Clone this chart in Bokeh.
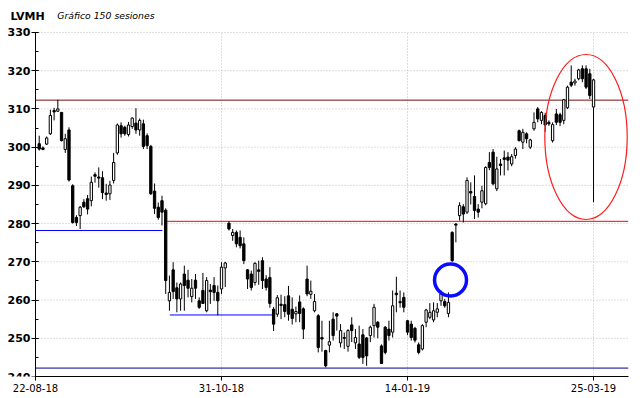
from bokeh.plotting import figure
from bokeh.models import ColumnDataSource, Range1d, FixedTicker, SingleIntervalTicker, Label
from bokeh.embed import file_html
from bokeh.resources import INLINE

title_text = "LVMH"
subtitle_text = "Gráfico 150 sesiones"

sessions = list(range(1, 151))

opens = [
    300.9, 299.8, 300.8, 303.5, 309.6, 309.4, 309.1, 299.4, 304.5, 289.9,
    281.6, 282.1, 285.6, 286.5, 286.0, 292.8, 292.2, 292.0, 288.0, 287.8,
    291.3, 298.5, 305.6, 305.2, 303.3, 305.4, 306.3, 304.5, 306.1, 303.0,
    300.2, 288.5, 284.3, 286.0, 283.5, 259.8, 267.9, 263.2, 260.3, 266.8,
    265.2, 260.9, 265.2, 259.8, 262.5, 257.2, 262.6, 263.8, 262.0, 262.9,
    268.4, 280.1, 276.9, 277.7, 276.4, 274.7, 267.9, 266.8, 264.6, 267.9,
    270.3, 265.5, 265.9, 257.6, 256.3, 258.9, 258.8, 261.1, 257.6, 256.4,
    259.5, 257.7, 265.5, 261.5, 257.2, 255.9, 250.2, 246.8, 248.2, 255.0,
    256.4, 248.8, 250.2, 247.9, 253.5, 248.8, 248.5, 250.9, 250.1, 250.7,
    253.3, 254.2, 248.0, 252.9, 252.4, 251.6, 261.8, 259.6, 260.7, 254.6,
    253.7, 252.6, 248.3, 247.2, 254.2, 255.5, 254.8, 256.8, 259.8, 259.6,
    256.5, 277.7, 279.9, 282.1, 284.4, 283.0, 288.4, 287.1, 283.8, 285.6,
    285.2, 296.0, 298.7, 289.1, 295.6, 297.2, 297.4, 295.6, 297.8, 304.3,
    301.3, 303.5, 300.0, 304.8, 310.0, 307.0, 308.3, 306.5, 301.7, 308.7,
    308.5, 307.0, 310.3, 317.0, 316.8, 317.9, 320.5, 320.5, 319.2, 310.5,
]
highs = [
    303.0, 300.2, 302.8, 309.8, 310.3, 312.4, 309.2, 303.5, 305.2, 290.3,
    282.2, 284.6, 286.4, 287.5, 292.3, 293.4, 294.7, 293.7, 290.4, 291.2,
    298.5, 306.2, 306.5, 305.6, 306.6, 307.8, 310.2, 307.5, 307.2, 303.6,
    300.6, 290.5, 285.5, 287.3, 284.0, 266.4, 269.9, 264.6, 264.6, 269.0,
    267.9, 265.5, 266.8, 260.7, 267.1, 266.0, 264.2, 266.0, 263.8, 269.9,
    270.0, 280.6, 278.6, 278.2, 278.2, 276.4, 268.1, 267.7, 269.9, 270.3,
    271.2, 266.5, 268.6, 258.2, 261.3, 261.4, 261.0, 263.7, 260.7, 258.3,
    261.2, 258.1, 269.0, 265.1, 261.6, 256.3, 254.6, 247.0, 254.6, 256.8,
    256.6, 253.7, 251.5, 252.4, 255.5, 252.4, 253.3, 252.4, 250.3, 253.3,
    259.0, 254.5, 248.4, 253.2, 254.6, 262.5, 266.1, 262.5, 262.0, 254.8,
    254.6, 253.0, 248.9, 253.7, 257.7, 259.2, 259.4, 259.2, 262.5, 260.3,
    262.0, 278.0, 280.1, 285.6, 285.1, 292.1, 290.8, 292.6, 285.1, 289.9,
    295.0, 298.7, 299.5, 297.5, 296.9, 299.1, 298.7, 298.2, 300.0, 304.6,
    304.8, 303.9, 302.2, 309.1, 310.5, 309.4, 309.0, 307.0, 306.5, 310.0,
    309.0, 312.6, 316.1, 321.4, 317.9, 320.5, 321.4, 321.4, 320.5, 317.9,
]
lows = [
    299.1, 299.2, 300.6, 303.2, 307.0, 309.2, 301.5, 298.5, 291.0, 280.0,
    279.4, 278.6, 284.1, 282.4, 284.5, 290.7, 289.4, 286.4, 286.0, 286.2,
    290.5, 298.0, 302.5, 303.0, 302.8, 304.8, 303.5, 303.0, 299.5, 299.5,
    287.5, 282.5, 281.0, 279.5, 261.6, 257.2, 260.3, 256.8, 257.2, 257.2,
    260.7, 259.4, 260.3, 257.7, 259.0, 256.8, 259.0, 259.8, 256.0, 261.6,
    263.4, 278.2, 275.5, 273.8, 273.5, 269.4, 262.9, 262.5, 263.8, 264.0,
    262.9, 262.5, 258.0, 251.9, 255.6, 255.0, 255.5, 254.6, 253.6, 254.2,
    254.2, 249.8, 261.0, 260.3, 256.8, 246.3, 246.5, 242.4, 246.3, 249.4,
    252.0, 247.6, 247.2, 246.5, 249.0, 247.2, 244.6, 243.3, 242.8, 249.0,
    250.2, 250.0, 243.3, 245.8, 249.4, 250.2, 256.8, 258.0, 256.8, 250.8,
    249.4, 248.9, 245.8, 246.8, 252.9, 255.0, 254.2, 255.5, 258.5, 258.0,
    255.5, 270.0, 275.1, 280.8, 280.3, 282.5, 285.0, 281.2, 281.6, 284.0,
    284.8, 294.0, 290.0, 288.5, 292.6, 292.6, 293.9, 295.0, 297.0, 301.5,
    299.5, 301.0, 299.5, 304.3, 306.5, 306.0, 304.0, 305.6, 301.2, 305.8,
    305.5, 306.0, 310.0, 315.7, 316.1, 317.5, 317.0, 315.2, 312.6, 285.6,
]
closes = [
    299.5, 299.4, 302.4, 308.3, 309.2, 310.0, 301.7, 302.2, 291.4, 280.3,
    280.3, 284.3, 284.4, 283.8, 290.8, 292.4, 291.9, 288.1, 287.6, 290.1,
    296.0, 305.8, 303.5, 303.5, 305.8, 307.6, 304.5, 307.0, 300.2, 300.4,
    287.8, 284.0, 281.6, 283.0, 265.1, 262.0, 262.2, 260.3, 264.2, 263.8,
    263.1, 263.1, 263.1, 258.1, 259.1, 265.1, 262.2, 262.0, 259.8, 268.6,
    269.7, 278.6, 277.7, 274.7, 274.2, 270.3, 265.5, 263.3, 269.6, 267.5,
    265.1, 263.3, 259.1, 253.7, 260.6, 258.6, 257.0, 256.3, 255.2, 257.0,
    256.5, 252.4, 261.6, 262.3, 259.6, 247.6, 249.8, 242.8, 249.1, 250.7,
    255.8, 252.0, 250.0, 252.0, 252.0, 250.2, 245.0, 245.0, 245.4, 252.9,
    258.1, 252.9, 243.4, 246.3, 250.7, 258.5, 261.4, 259.3, 258.1, 251.6,
    250.2, 249.5, 246.3, 253.3, 257.4, 256.8, 257.2, 257.7, 261.6, 258.5,
    259.4, 270.3, 279.6, 284.7, 282.5, 291.3, 288.0, 283.4, 283.0, 288.6,
    294.7, 294.7, 290.4, 294.3, 295.2, 296.8, 296.6, 297.5, 299.5, 301.7,
    303.9, 302.2, 301.9, 306.5, 307.4, 309.1, 305.8, 306.1, 305.9, 306.5,
    306.5, 312.4, 315.7, 316.2, 317.3, 320.2, 317.9, 315.7, 313.5, 317.6,
]

date_ticks = [0, 50, 100, 150]
date_labels = ["22-08-18", "31-10-18", "14-01-19", "25-03-19"]
price_ticks = [240, 250, 260, 270, 280, 290, 300, 310, 320, 330]
y_min, y_max = 240, 330
x_min, x_max = 0, 159.4
x_view_left = -9.41          # room left of the price axis for its labels and the title
y_view_top = 338.37          # room above the price area for the title line

# support / resistance lines drawn on the chart
level_values = [312.3, 242.2, 278.2, 256.1, 280.6]
level_starts = [0, 0, 0, 36.1, 35.4]
level_ends = [159.4, 159.4, 34.1, 63.8, 159.4]
level_colors = ["#7a1010", "#000090", "#0000ff", "#0000ff", "#ff0000"]

# highlight marks
circle_center = (111.56, 265.25)
circle_size = (8.6, 8.37)
ellipse_center = (147.98, 302.66)
ellipse_size = (22.15, 43.2)

tops = [max(o, c) for o, c in zip(opens, closes)]
bottoms = [min(o, c) for o, c in zip(opens, closes)]
fills = ["white" if c > o else "black" for o, c in zip(opens, closes)]
src = ColumnDataSource(dict(x=sessions, o=opens, h=highs, l=lows, c=closes,
                            top=tops, bottom=bottoms, fill=fills))

p = figure(width=640, height=398, output_backend="svg", toolbar_location=None,
           x_range=Range1d(x_view_left, x_max), y_range=Range1d(y_min, y_view_top),
           min_border_left=0, min_border_right=12, min_border_top=0, min_border_bottom=22)
p.outline_line_color = None
p.background_fill_color = "white"
p.border_fill_color = "white"

grid_color = "#bcbcbc"
grid_dash = "1 2"
p.xgrid.visible = False
p.ygrid.visible = False
# grid lines only across the price area
p.segment(x0=date_ticks, y0=[y_min] * len(date_ticks), x1=date_ticks, y1=[y_max] * len(date_ticks),
          line_color=grid_color, line_dash=grid_dash, line_width=1)
p.segment(x0=[x_min] * len(price_ticks), y0=price_ticks, x1=[x_max] * len(price_ticks), y1=price_ticks,
          line_color=grid_color, line_dash=grid_dash, line_width=1)

# axes
p.yaxis.fixed_location = x_min
p.yaxis.bounds = (y_min, y_max)
p.yaxis.ticker = SingleIntervalTicker(interval=10, num_minor_ticks=2)
p.yaxis.major_label_text_font = "DejaVu Sans"
p.yaxis.major_label_text_font_style = "bold"
p.yaxis.major_label_text_font_size = "11px"
p.yaxis.major_label_text_color = "black"
p.yaxis.major_tick_in = 3
p.yaxis.major_tick_out = 4
p.yaxis.minor_tick_in = 3
p.yaxis.minor_tick_out = 0
p.yaxis.major_label_standoff = 1
p.yaxis.axis_line_color = "black"

p.xaxis.bounds = (x_min, x_max)
p.xaxis.ticker = FixedTicker(ticks=date_ticks)
p.xaxis.major_label_overrides = dict(zip(date_ticks, date_labels))
p.xaxis.major_label_text_font = "DejaVu Sans"
p.xaxis.major_label_text_font_size = "10px"
p.xaxis.major_label_text_color = "black"
p.xaxis.major_tick_in = 0
p.xaxis.major_tick_out = 4
p.xaxis.minor_tick_line_color = None
p.xaxis.major_label_standoff = 3
p.xaxis.axis_line_color = "black"

# level lines
p.segment(x0=level_starts, y0=level_values, x1=level_ends, y1=level_values,
          line_color=level_colors, line_width=1)

# candles
p.segment(x0="x", y0="l", x1="x", y1="h", source=src, line_color="black", line_width=1)
p.vbar(x="x", top="top", bottom="bottom", width=0.62, source=src,
       fill_color="fill", line_color="black", line_width=1)

# highlights
p.ellipse(x=[circle_center[0]], y=[circle_center[1]], width=[circle_size[0]], height=[circle_size[1]],
          fill_color=None, line_color="#0a0aff", line_width=3.5)
p.ellipse(x=[ellipse_center[0]], y=[ellipse_center[1]], width=[ellipse_size[0]], height=[ellipse_size[1]],
          fill_color=None, line_color="#ff1a1a", line_width=1.2)

# titles
p.add_layout(Label(x=-6.72, y=334.3, text=title_text, text_font="DejaVu Sans",
                   text_font_size="11px", text_font_style="bold", text_color="black",
                   text_baseline="alphabetic"))
p.add_layout(Label(x=5.83, y=334.4, text=subtitle_text, text_font="DejaVu Sans",
                   text_font_size="9.3px", text_font_style="italic", text_color="black",
                   text_baseline="alphabetic"))

open("out.html", "w").write(file_html(p, INLINE))
